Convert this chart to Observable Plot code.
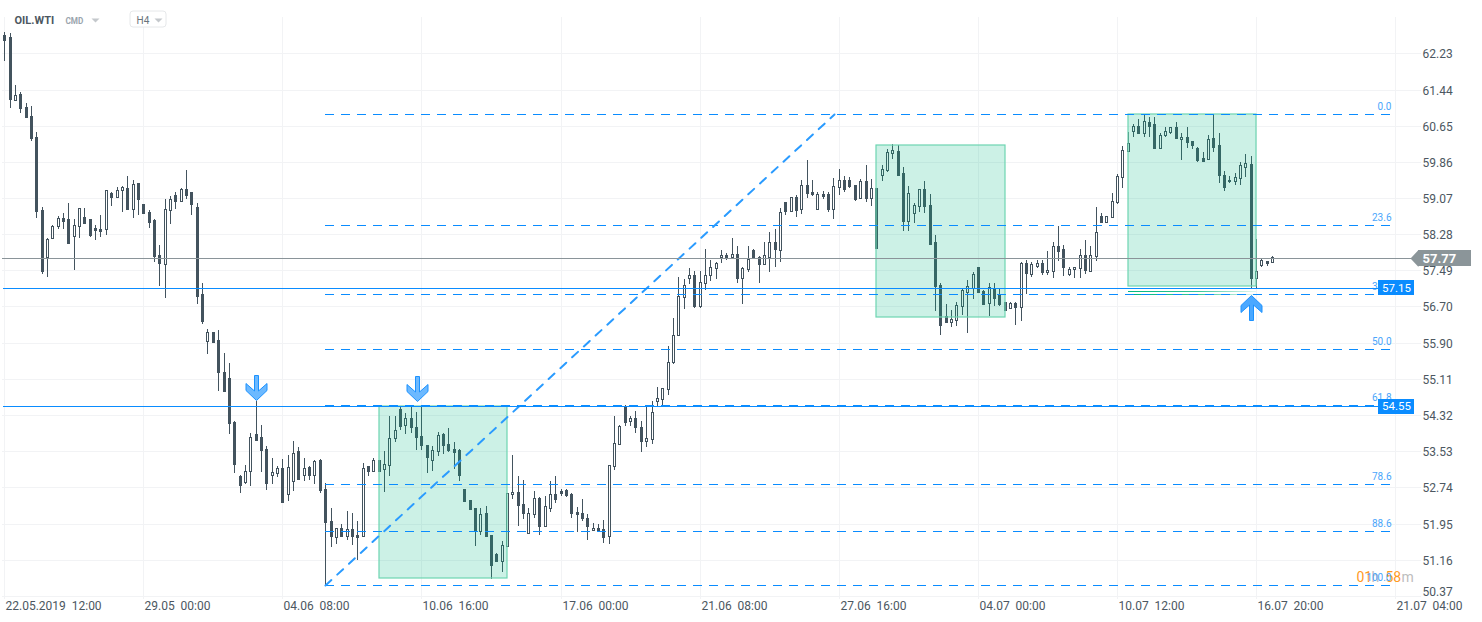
<!DOCTYPE html>
<html>
<head>
<meta charset="utf-8">
<script src="https://cdn.jsdelivr.net/npm/d3@7"></script>
<script src="https://cdn.jsdelivr.net/npm/@observablehq/plot@0.6"></script>
<style>html,body{margin:0;padding:0;background:#fff;overflow:hidden}</style>
</head>
<body>
<script>
const open = [62.64,62.58,61.22,61.35,61.06,60.87,60.41,58.80,57.78,58.20,
58.45,58.64,58.60,58.23,58.45,58.66,58.60,58.42,58.40,58.39,
59.18,59.09,59.25,59.29,58.83,59.39,58.93,58.77,58.58,57.83,
57.63,58.80,59.14,59.01,59.27,59.20,58.88,56.96,55.94,56.14,
55.97,55.27,55.14,54.18,53.00,52.85,53.10,53.91,53.85,53.58,
53.01,53.05,53.17,52.59,52.88,53.54,53.01,53.19,53.01,53.35,
52.71,52.01,51.65,51.86,51.67,51.83,51.71,51.67,53.20,53.10,
53.34,53.15,53.23,53.82,54.46,54.10,54.26,54.07,53.86,53.66,
53.34,53.53,53.90,53.69,53.57,53.56,52.71,52.47,52.30,51.78,
52.19,51.71,51.29,51.13,51.45,52.59,52.64,52.38,51.75,52.16,
52.51,51.89,52.29,52.60,52.67,52.69,52.60,52.21,52.18,52.07,
51.80,51.86,51.83,51.67,53.21,53.69,54.49,54.19,54.26,54.07,
53.75,53.80,54.63,54.67,54.90,55.48,56.08,56.91,57.32,57.39,
56.70,57.21,57.39,57.54,57.77,57.83,57.77,57.85,57.32,57.52,
57.94,57.78,57.62,57.78,58.11,57.94,58.99,58.78,59.10,58.83,
59.36,59.21,58.83,59.16,59.16,58.83,59.31,59.47,59.47,59.36,
59.07,59.44,59.07,59.29,59.58,59.69,60.05,60.10,59.62,58.56,
58.74,58.89,59.27,58.92,58.11,57.17,56.48,56.35,56.40,56.70,
57.02,57.11,57.55,57.04,56.77,57.10,56.94,56.80,56.66,56.78,
56.68,57.65,57.41,57.58,57.65,57.45,57.48,58.02,57.96,57.41,
57.51,57.53,57.83,57.48,57.80,58.68,58.54,58.65,58.98,59.52,
60.09,60.53,60.65,60.49,60.73,60.69,60.17,60.44,60.52,60.63,
60.36,60.41,60.32,60.17,59.95,59.93,60.37,60.22,59.58,59.43,
59.43,59.50,59.74,59.82,57.31,57.60,57.70,57.67];

const close = [62.53,61.23,61.33,61.03,60.84,60.38,58.78,57.47,58.18,58.45,
58.64,58.56,58.08,58.48,58.85,58.52,58.26,58.37,58.34,59.25,
59.09,59.25,59.31,58.83,59.38,59.04,58.74,58.54,57.80,57.64,
58.83,59.05,59.00,59.27,59.14,58.93,56.92,56.37,56.14,55.92,
55.26,54.84,54.14,53.25,52.79,53.10,53.85,53.78,53.56,52.83,
53.08,53.16,52.43,53.19,53.50,52.93,53.17,53.01,53.32,52.68,
51.98,51.67,51.86,51.67,51.83,51.67,51.65,53.17,53.10,53.34,
53.11,53.26,53.82,54.00,54.09,54.26,54.06,53.84,53.66,53.40,
53.56,53.89,53.66,53.55,53.51,53.01,52.44,52.26,51.78,52.16,
51.67,51.05,51.13,51.48,52.62,52.64,52.35,52.18,52.18,52.51,
51.89,52.34,52.60,52.48,52.61,52.57,52.18,52.16,52.07,51.89,
51.86,51.80,51.65,53.23,53.72,54.09,54.17,54.26,54.06,53.75,
53.82,54.39,54.70,54.92,55.48,56.08,56.93,57.17,57.39,56.70,
57.24,57.39,57.56,57.65,57.83,57.78,57.85,57.32,57.54,57.74,
57.77,57.62,57.82,58.11,57.95,58.77,58.78,59.09,58.80,59.36,
59.17,59.15,59.16,59.11,58.82,59.34,59.47,59.26,59.33,59.04,
59.44,59.07,59.28,57.97,59.71,60.08,60.12,59.58,58.56,59.18,
58.92,59.27,58.89,58.07,57.14,56.29,56.36,56.43,56.73,57.06,
57.15,57.41,57.01,56.76,57.13,56.89,56.76,56.63,56.78,56.68,
57.65,57.42,57.63,57.65,57.45,57.50,58.02,57.92,57.56,57.52,
57.56,57.83,57.49,57.83,58.33,58.54,58.68,59.01,59.55,60.12,
60.27,60.64,60.49,60.76,60.65,60.17,60.45,60.54,60.63,60.38,
60.41,60.29,60.22,59.91,59.88,60.36,60.18,59.57,59.31,59.47,
59.53,59.78,59.84,57.31,57.48,57.72,57.64,57.78];

const high = [62.70,62.67,61.55,61.39,61.14,61.09,60.52,58.88,58.20,58.47,
58.67,58.73,58.97,58.60,58.86,58.86,58.61,58.47,58.69,59.25,
59.20,59.32,59.33,59.56,59.47,59.39,58.93,58.80,58.60,58.05,
59.04,59.11,59.21,59.28,59.67,59.21,58.97,57.20,56.21,56.14,
56.19,55.68,55.45,54.19,53.02,53.22,53.93,54.63,54.11,53.65,
53.39,53.20,53.37,53.44,53.76,53.63,53.39,53.21,53.33,53.36,
52.84,52.29,51.86,51.95,52.23,52.18,52.00,53.28,53.20,53.39,
53.34,53.53,54.31,54.31,54.50,54.37,54.53,54.39,54.50,53.67,
53.64,53.95,53.92,54.03,53.73,53.59,52.71,52.47,52.30,52.29,
52.34,51.71,51.31,51.57,52.62,53.44,52.98,52.91,52.29,52.67,
52.54,52.55,52.89,52.98,52.71,52.71,52.61,52.32,52.48,52.15,
51.97,51.93,52.02,53.24,54.30,54.10,54.55,54.30,54.41,54.20,
54.50,54.62,54.93,54.92,55.84,56.45,57.35,57.29,57.54,57.47,
57.48,57.96,57.72,57.67,57.93,57.86,58.20,58.02,57.56,58.02,
57.96,57.80,58.10,58.33,58.38,58.84,58.99,59.09,59.13,59.47,
59.91,59.47,59.21,59.23,59.20,59.50,59.71,59.56,59.52,59.36,
59.49,59.78,59.49,59.29,59.80,60.13,60.26,60.22,59.74,59.34,
58.96,59.27,59.43,59.15,58.25,57.21,56.76,56.61,56.79,57.08,
57.27,57.44,57.55,57.06,57.20,57.21,57.07,56.80,56.79,56.80,
57.68,57.72,57.67,57.71,57.71,57.90,58.11,58.45,58.03,57.56,
57.56,57.96,58.16,58.01,58.87,58.74,58.68,59.17,59.60,60.20,
60.52,60.68,60.80,60.91,60.84,60.84,60.48,60.63,60.63,60.74,
60.49,60.63,60.32,60.19,60.07,60.44,60.91,60.49,59.65,59.55,
59.61,59.86,60.03,59.98,58.18,57.74,57.70,57.81];

const low = [62.06,61.03,61.21,60.92,60.83,60.31,58.63,57.40,57.34,58.17,
58.38,58.38,58.07,57.50,58.19,58.51,58.22,58.15,58.21,58.27,
58.90,59.06,58.76,58.82,58.63,58.69,58.73,58.42,57.66,57.14,
56.88,58.49,58.82,58.98,59.04,58.69,56.76,56.32,55.66,55.92,
54.84,54.82,53.91,53.05,52.61,52.81,52.77,53.77,53.07,52.68,
52.81,52.96,52.42,52.44,52.66,52.90,52.88,52.90,52.82,52.61,
50.61,51.43,51.51,51.65,51.59,51.49,51.16,51.66,53.00,53.10,
53.11,52.64,53.00,53.73,53.99,53.90,53.93,53.55,53.55,53.05,
53.09,53.42,53.47,53.52,53.15,52.89,52.44,52.26,51.47,51.71,
51.66,50.73,51.13,50.90,51.45,52.48,51.89,52.04,51.74,52.07,
51.70,51.89,52.20,52.39,52.55,52.53,52.08,51.76,52.00,51.59,
51.79,51.79,51.52,51.50,53.12,53.68,54.08,54.09,53.93,53.51,
53.62,53.68,54.53,54.50,54.76,55.44,56.07,56.65,57.18,56.67,
56.67,57.05,57.25,57.30,57.64,57.71,57.74,57.20,56.74,57.45,
57.74,57.21,57.60,57.45,57.56,57.68,58.69,58.78,58.65,58.72,
59.06,59.11,58.83,59.04,58.76,58.60,59.13,59.20,59.28,59.01,
59.06,58.98,58.90,57.97,59.43,59.63,59.93,59.57,58.34,58.34,
58.53,58.77,58.74,58.06,56.59,56.08,56.35,56.24,56.27,56.52,
56.11,56.87,56.99,56.74,56.48,56.70,56.70,56.63,56.65,56.30,
56.39,56.96,57.34,57.54,57.39,57.39,57.32,57.69,57.36,57.36,
57.33,57.32,57.40,57.46,57.69,58.54,58.54,58.63,58.93,59.28,
60.09,60.40,60.48,60.40,60.41,60.16,60.16,60.40,60.47,60.37,
59.91,60.16,60.13,59.86,59.85,59.91,60.07,59.39,59.22,59.39,
59.36,59.36,59.53,57.07,57.07,57.56,57.58,57.66];

const yTicks = [62.23,61.44,60.65,59.86,59.07,58.28,57.49,56.70,55.90,55.11,54.32,53.53,52.74,51.95,51.16,50.37];
const xTicks = [0,26,52,78,104,130,156,182,208,234,260];
const xDates = ["22.05.2019","29.05","04.06","10.06","17.06","21.06","27.06","04.07","10.07","16.07","21.07"];
const xTimes = ["12:00","00:00","08:00","16:00","00:00","08:00","16:00","00:00","12:00","20:00","04:00"];

const fibNames = ["0.0","23.6","38.2","50.0","61.8","78.6","88.6","100.0"];
const fibPrices = [60.91,58.48,56.97,55.77,54.55,52.82,51.79,50.61];
const fibStart = 60, fibEnd = 259.2, fibDiagonalEnd = 155.1;

const zoneStart = [70,163,210];
const zoneEnd = [94,187,234];
const zoneTop = [54.53,60.23,60.91];
const zoneBottom = [50.76,56.47,57.15];

const lastPriceLevel = 57.76, lastPriceText = "57.77";
const alertLevels = [57.105,54.51];
const alertTexts = ["57.15","54.55"];

const arrowDownX = [47.08,77.2], arrowDownY = [54.65,54.63];
const arrowUpX = [233.1], arrowUpY = [56.95];

const candleColor = "#43535e", fibBlue = "#0a8cff", gridColor = "#f2f3f5";
const idx = d3.range(open.length);
const topOf = i => Math.max(open[i], close[i]);
const bottomOf = i => Math.min(open[i], close[i]);
const hollow = idx.filter(i => close[i] >= open[i]);

const downArrow = {draw(c){
  [[-2,-25],[2,-25],[2,-9.5],[10.5,-17],[10.5,-10],[0,0],[-10.5,-10],[-10.5,-17],[-2,-9.5]]
    .forEach((p,k)=>k?c.lineTo(p[0],p[1]):c.moveTo(p[0],p[1]));
  c.closePath();
}};
const upArrow = {draw(c){
  [[-2,25],[2,25],[2,9.5],[10.5,17],[10.5,10],[0,0],[-10.5,10],[-10.5,17],[-2,9.5]]
    .forEach((p,k)=>k?c.lineTo(p[0],p[1]):c.moveTo(p[0],p[1]));
  c.closePath();
}};
const tagTip = {draw(c){c.moveTo(-8,0);c.lineTo(0,-8.5);c.lineTo(0,8.5);c.closePath();}};
const caret = {draw(c){c.moveTo(-4,-2);c.lineTo(4,-2);c.lineTo(0,2);c.closePath();}};

const label = (t,x,y,o={}) => Plot.text([t],{text:d=>d,frameAnchor:"top-left",dx:x,dy:y,textAnchor:"start",lineAnchor:"middle",...o});

const defs = () => {
  const d = d3.create("svg:defs");
  const g = d.append("linearGradient").attr("id","sliver").attr("gradientUnits","userSpaceOnUse")
    .attr("x1",1128).attr("x2",1256).attr("y1",0).attr("y2",0);
  g.append("stop").attr("offset","0").attr("stop-color","#00b880");
  g.append("stop").attr("offset","0.55").attr("stop-color","#00b880").attr("stop-opacity","0.8");
  g.append("stop").attr("offset","1").attr("stop-color","#00b880").attr("stop-opacity","0.1");
  return d.node();
};

const fibSet = fibNames.map((n,k)=>({n,p:fibPrices[k]}));
const axisYStyle = {anchor:"right",tickSize:0,tickPadding:0,tickFormat:d3.format(".2f"),fontSize:12,fill:"#4c5761",label:null};

const chart = Plot.plot({
  width:1482, height:622,
  marginLeft:0, marginRight:60, marginTop:0, marginBottom:26,
  style:{display:"block",fontFamily:"Roboto",background:"#fff",maxWidth:"none"},
  x:{domain:[-4.15/5.35,(1422-4.15)/5.35],round:true,axis:null},
  y:{domain:[50.366,63.398],round:true,axis:null},
  marks:[
    defs,
    Plot.ruleX(xTicks,{y1:63.02,y2:50.29,stroke:gridColor}),
    Plot.ruleY(yTicks,{x1:-0.4,x2:264.8,stroke:gridColor}),
    Plot.axisY(yTicks.slice(0,-1),{...axisYStyle,dy:0.5}),
    Plot.axisY(yTicks.slice(-1),{...axisYStyle,dy:-4}),
    Plot.axisX(xTicks,{anchor:"bottom",tickSize:0,tickPadding:5,textAnchor:"start",dx:1,fontSize:12,fill:"#4c5761",label:null,
      tickFormat:d=>{const k=xTicks.indexOf(d);return xDates[k]+"\u00a0\u00a0"+xTimes[k];}}),

    Plot.ruleX(idx,{x:i=>i,y1:i=>high[i],y2:i=>low[i],stroke:candleColor,strokeWidth:1}),
    Plot.ruleX(idx,{x:i=>i,y1:topOf,y2:bottomOf,stroke:candleColor,strokeWidth:3,insetBottom:-1}),
    Plot.ruleX(hollow,{x:i=>i,y1:topOf,y2:bottomOf,stroke:"#fff",strokeWidth:1,insetTop:1}),

    Plot.rect(zoneStart,{x1:(d,k)=>zoneStart[k],x2:(d,k)=>zoneEnd[k],y1:(d,k)=>zoneTop[k],y2:(d,k)=>zoneBottom[k],
      fill:"#00b880",fillOpacity:0.2,stroke:"#6dd5b1",strokeWidth:1.2}),
    Plot.ruleY([57.035],{x1:210,x2:234,stroke:"url(#sliver)",strokeWidth:1.2}),
    Plot.ruleY([56.97],{x1:210,x2:234,stroke:"url(#sliver)",strokeWidth:1.2}),

    Plot.ruleY(fibSet,{y:"p",x1:fibStart,x2:fibEnd,stroke:fibBlue,strokeWidth:1,strokeDasharray:"9,7"}),
    Plot.line([[fibStart,fibPrices[7]],[fibDiagonalEnd,fibPrices[0]]],{x:d=>d[0],y:d=>d[1],stroke:"#2a9bff",strokeWidth:2,strokeDasharray:"8,8"}),
    Plot.text(fibSet.slice(0,7),{x:fibEnd,y:"p",text:"n",textAnchor:"end",lineAnchor:"bottom",dy:-5,fontSize:10,fill:"#4aa5fb"}),

    Plot.ruleY([lastPriceLevel],{x1:-0.4,x2:262.9,stroke:"#8a9499"}),
    Plot.ruleY(alertLevels,{x1:-0.2,x2:257,stroke:fibBlue}),

    Plot.rect(alertLevels,{x1:256.8,x2:263.5,y1:d=>d+0.16,y2:d=>d-0.16,fill:"#0a8cff"}),
    Plot.text(alertLevels,{x:260.1,y:d=>d,text:(d,k)=>alertTexts[k],fill:"#fff",fontSize:11.5,fontWeight:400}),
    Plot.rect([lastPriceLevel],{x1:264.3,x2:274.2,y1:d=>d+0.18,y2:d=>d-0.18,fill:"#8b9599"}),
    Plot.dot([lastPriceLevel],{x:264.3,y:d=>d,symbol:tagTip,fill:"#8b9599"}),
    label(lastPriceText,1422,258.5,{fill:"#fff",fontSize:13,fontWeight:700}),

    Plot.dot(arrowDownX,{x:d=>d,y:(d,k)=>arrowDownY[k],symbol:downArrow,fill:"#6cb9ff",stroke:"#1c92ff",strokeWidth:1}),
    Plot.dot(arrowUpX,{x:d=>d,y:(d,k)=>arrowUpY[k],symbol:upArrow,fill:"#4aa8ff",stroke:"#1c92ff",strokeWidth:1}),

    label("01",1356,577,{fill:"#ff9a1f",fontSize:14}),
    label("h",1371,577,{fill:"#bdbdbd",fontSize:14}),
    label("58",1385,577,{fill:"#ff9a1f",fontSize:14}),
    label("m",1401,577,{fill:"#bdbdbd",fontSize:14}),
    Plot.text(fibSet.slice(7),{x:fibEnd,y:"p",text:"n",textAnchor:"end",lineAnchor:"bottom",dy:-5,fontSize:10,fill:"#4aa5fb"}),

    label("OIL.WTI",14,20,{fill:"#4c5761",fontSize:11,fontWeight:700}),
    label("CMD",65,21,{fill:"#9aa5ad",fontSize:8.2,fontWeight:700}),
    Plot.dot([17],{x:d=>d,y:62.97,symbol:caret,fill:"#c4c8cc"}),
    Plot.rect([0],{x1:23.6,x2:30.16,y1:63.15,y2:62.80,fill:"#fff",stroke:"#e6e8ea",rx:3}),
    label("H4",136,20.5,{fill:"#6a747c",fontSize:10}),
    Plot.dot([28.76],{x:d=>d,y:62.97,symbol:caret,fill:"#c4c8cc"})
  ]
});
document.body.append(chart);
</script>
</body>
</html>
